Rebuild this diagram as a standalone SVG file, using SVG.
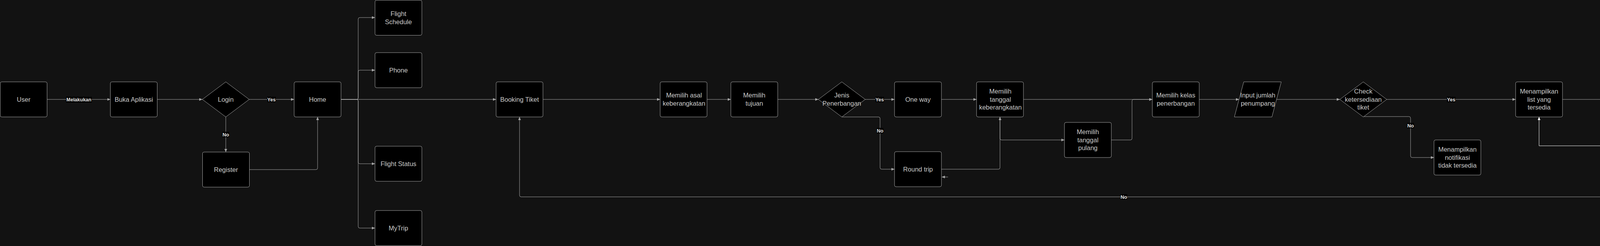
<svg xmlns="http://www.w3.org/2000/svg" width="5621" height="631" viewBox="0 0 5621 631">
<style>
.bg{fill:#121212}
.n{fill:#000;stroke:#a6a6a6;stroke-width:1;stroke-linejoin:round}
.t{font-family:"Liberation Sans",Arial,sans-serif;font-size:16.5px;fill:#cacaca;text-anchor:middle}
.e{fill:none;stroke:#a6a6a6;stroke-width:1;marker-end:url(#arr)}
.ew{fill:none;stroke:#ffffff;stroke-width:1;marker-end:url(#arrw)}
.lb{fill:#000}
.l{font-family:"Liberation Sans",Arial,sans-serif;font-size:12.5px;font-weight:bold;fill:#e2e2e2;text-anchor:middle}
.lw{font-family:"Liberation Sans",Arial,sans-serif;font-size:11px;fill:#ffffff;text-anchor:middle}
</style>
<defs>
<marker id="arr" markerUnits="userSpaceOnUse" markerWidth="10" markerHeight="8" refX="8" refY="3.5" orient="auto"><path d="M0,0 L8,3.5 L0,7 Z" fill="#a6a6a6"/></marker>
<marker id="arrw" markerUnits="userSpaceOnUse" markerWidth="10" markerHeight="8" refX="8" refY="3.5" orient="auto"><path d="M0,0 L8,3.5 L0,7 Z" fill="#ffffff"/></marker>
</defs>
<rect class="bg" x="0" y="0" width="5621" height="631"/>

<g id="connectors">
<path class="e" d="M120.5,255 H282.5"/>
<path class="e" d="M402.5,255 H518"/>
<path class="e" d="M638,255 H753"/>
<path class="e" d="M578,300 V390"/>
<path class="e" d="M638.5,435 H809 Q813,435 813,431 V300"/>
<path class="e" d="M873,255 H913 Q917,255 917,251 V49 Q917,45 921,45 H960"/>
<path class="e" d="M873,255 H913 Q917,255 917,251 V184 Q917,180 921,180 H960"/>
<path class="e" d="M873,255 H913 Q917,255 917,259 V416 Q917,420 921,420 H960"/>
<path class="e" d="M873,255 H913 Q917,255 917,259 V581 Q917,585 921,585 H960"/>
<path class="e" d="M873,255 H1270"/>
<path class="e" d="M1390,255 H1690"/>
<path class="e" d="M1810,255 H1871"/>
<path class="e" d="M1991,255 H2095"/>
<path class="e" d="M2215,255 H2290"/>
<path class="e" d="M2155,300 H2249 Q2253,300 2253,304 V430 Q2253,434 2257,434 H2290"/>
<path class="e" d="M2410,255 H2500"/>
<path class="e" d="M2410,434 H2556 Q2560,434 2560,430 V300"/>
<path class="e" d="M2560,300 V355 Q2560,359 2564,359 H2725"/>
<path class="e" d="M2427,454 H2411"/>
<path class="e" d="M2620,255 H2950"/>
<path class="e" d="M2845,359 H2894 Q2898,359 2898,355 V259 Q2898,255 2902,255 H2950"/>
<path class="e" d="M3070,255 H3172"/>
<path class="e" d="M3268,255 H3430"/>
<path class="e" d="M3550,255 H3880"/>
<path class="e" d="M3490,299 H3607 Q3611,299 3611,303 V400 Q3611,404 3615,404 H3671"/>
<path class="e" d="M4000,255 H4135"/>
<path class="e" d="M4255,255 H4360"/>
<path class="e" d="M4480,255 H4642"/>
<path class="e" d="M4420,299 V501 Q4420,505 4416,505 H1334 Q1330,505 1330,501 V300"/>
<path class="e" d="M4738,255 H4885"/>
<path class="e" d="M5005,255 H5140"/>
<path class="e" d="M5260,255 H5500"/>
<path class="ew" d="M5200,299 V374 H3940 V300"/>

<rect class="lb" x="169" y="248" width="66" height="15"/><text class="l" x="202" y="259.5">Melakukan</text>
<rect class="lb" x="684" y="248" width="22" height="14"/><text class="l" x="695" y="259.5">Yes</text>
<rect class="lb" x="569.5" y="338" width="17" height="14"/><text class="l" x="578" y="349.5">No</text>
<rect class="lb" x="2241" y="248" width="22" height="14"/><text class="l" x="2252" y="259.5">Yes</text>
<rect class="lb" x="2244.5" y="328" width="17" height="14"/><text class="l" x="2253" y="339.5">No</text>
<rect class="lb" x="3704" y="248" width="22" height="14"/><text class="l" x="3715" y="259.5">Yes</text>
<rect class="lb" x="3602.5" y="315" width="17" height="14"/><text class="l" x="3611" y="326.5">No</text>
<rect class="lb" x="4550" y="248" width="22" height="14"/><text class="l" x="4561" y="259.5">Yes</text>
<rect class="lb" x="2868.5" y="498" width="17" height="14"/><text class="l" x="2877" y="509.5">No</text>
<rect class="lb" x="5369" y="248" width="22" height="14"/><text class="l" x="5380" y="259.5">Yes</text>
<rect class="lb" x="4562" y="368" width="17" height="12"/><text class="lw" x="4570.5" y="378">NO</text>
</g>

<g id="user"><rect class="n" x="0.5" y="210" width="120" height="90" rx="4"/><text class="t" x="60.5" y="260.6">User</text></g>
<g id="buka-aplikasi"><rect class="n" x="282.5" y="210" width="120" height="90" rx="4"/><text class="t" x="342.5" y="260.6">Buka Aplikasi</text></g>
<g id="login"><polygon class="n" points="578,210 638,255 578,300 518,255"/><text class="t" x="578" y="260.6">Login</text></g>
<g id="register"><rect class="n" x="518.5" y="390" width="120" height="90" rx="4"/><text class="t" x="578.5" y="440.6">Register</text></g>
<g id="home"><rect class="n" x="753" y="210" width="120" height="90" rx="4"/><text class="t" x="813" y="260.6">Home</text></g>
<g id="flight-schedule"><rect class="n" x="960" y="0.5" width="120" height="90" rx="4"/><text class="t" x="1020"><tspan x="1020" y="40.7">Flight</tspan><tspan x="1020" y="61.5">Schedule</tspan></text></g>
<g id="phone"><rect class="n" x="960" y="135" width="120" height="90" rx="4"/><text class="t" x="1020" y="185.6">Phone</text></g>
<g id="flight-status"><rect class="n" x="960" y="375" width="120" height="90" rx="4"/><text class="t" x="1020" y="425.6">Flight Status</text></g>
<g id="mytrip"><rect class="n" x="960" y="540" width="120" height="90" rx="4"/><text class="t" x="1020" y="590.6">MyTrip</text></g>
<g id="booking-tiket"><rect class="n" x="1270" y="210" width="120" height="90" rx="4"/><text class="t" x="1330" y="260.6">Booking Tiket</text></g>
<g id="memilih-asal"><rect class="n" x="1690" y="210" width="120" height="90" rx="4"/><text class="t"><tspan x="1751" y="250.2">Memilih asal</tspan><tspan x="1751" y="271">keberangkatan</tspan></text></g>
<g id="memilih-tujuan"><rect class="n" x="1871" y="210" width="120" height="90" rx="4"/><text class="t"><tspan x="1931" y="250.2">Memilih</tspan><tspan x="1931" y="271">tujuan</tspan></text></g>
<g id="jenis-penerbangan"><polygon class="n" points="2155,210 2215,255 2155,300 2095,255"/><text class="t"><tspan x="2155" y="250.2">Jenis</tspan><tspan x="2155" y="271">Penerbangan</tspan></text></g>
<g id="one-way"><rect class="n" x="2290" y="210" width="120" height="90" rx="4"/><text class="t" x="2350" y="260.6">One way</text></g>
<g id="round-trip"><rect class="n" x="2290" y="389" width="120" height="90" rx="4"/><text class="t" x="2350" y="439.6">Round trip</text></g>
<g id="memilih-tanggal-keberangkatan"><rect class="n" x="2500" y="210" width="120" height="90" rx="4"/><text class="t"><tspan x="2561" y="239.8">Memilih</tspan><tspan x="2561" y="260.6">tanggal</tspan><tspan x="2561" y="281.4">keberangkatan</tspan></text></g>
<g id="memilih-tanggal-pulang"><rect class="n" x="2725" y="314" width="120" height="90" rx="4"/><text class="t"><tspan x="2785" y="343.8">Memilih</tspan><tspan x="2785" y="364.6">tanggal</tspan><tspan x="2785" y="385.4">pulang</tspan></text></g>
<g id="memilih-kelas"><rect class="n" x="2950" y="210" width="120" height="90" rx="4"/><text class="t"><tspan x="3010" y="250.2">Memilih kelas</tspan><tspan x="3010" y="271">penerbangan</tspan></text></g>
<g id="input-jumlah"><polygon class="n" points="3184,210 3280,210 3256,300 3160,300"/><text class="t"><tspan x="3220" y="250.2">Input jumlah</tspan><tspan x="3220" y="271">penumpang</tspan></text></g>
<g id="check-ketersediaan"><polygon class="n" points="3490,210 3550,255 3490,300 3430,255"/><text class="t"><tspan x="3490" y="239.8">Check</tspan><tspan x="3490" y="260.6">ketersediaan</tspan><tspan x="3490" y="281.4">tiket</tspan></text></g>
<g id="notifikasi-tidak-tersedia"><rect class="n" x="3671" y="359" width="120" height="90" rx="4"/><text class="t"><tspan x="3731" y="388.8">Menampilkan</tspan><tspan x="3731" y="409.6">notifikasi</tspan><tspan x="3731" y="430.4">tidak tersedia</tspan></text></g>
<g id="list-tersedia"><rect class="n" x="3880" y="210" width="120" height="90" rx="4"/><text class="t"><tspan x="3940" y="239.8">Menampilkan</tspan><tspan x="3940" y="260.6">list yang</tspan><tspan x="3940" y="281.4">tersedia</tspan></text></g>
<g id="detail-tiket"><rect class="n" x="4135" y="210" width="120" height="90" rx="4"/><text class="t"><tspan x="4195" y="239.8">Menampilkan</tspan><tspan x="4195" y="260.6">informasi</tspan><tspan x="4195" y="281.4">detail tiket</tspan></text></g>
<g id="booking-tiket-decision"><polygon class="n" points="4420,210 4480,255 4420,300 4360,255"/><text class="t" x="4420" y="260.6">Booking tiket</text></g>
<g id="mengisi-data"><polygon class="n" points="4654,210 4750,210 4726,300 4630,300"/><text class="t"><tspan x="4690" y="250.2">Mengisi data</tspan><tspan x="4690" y="271">penumpang</tspan></text></g>
<g id="trip-summary"><rect class="n" x="4885" y="210" width="120" height="90" rx="4"/><text class="t"><tspan x="4945" y="250.2">Trip</tspan><tspan x="4945" y="271">Summary</tspan></text></g>
<g id="konfirmasi-booking"><polygon class="n" points="5200,210 5260,255 5200,300 5140,255"/><text class="t"><tspan x="5200" y="250.2">Konfirmasi</tspan><tspan x="5200" y="271">booking</tspan></text></g>
<g id="pembayaran"><rect class="n" x="5500" y="210" width="120" height="90" rx="4"/><text class="t" x="5560" y="260.6">Pembayaran</text></g>
</svg>
